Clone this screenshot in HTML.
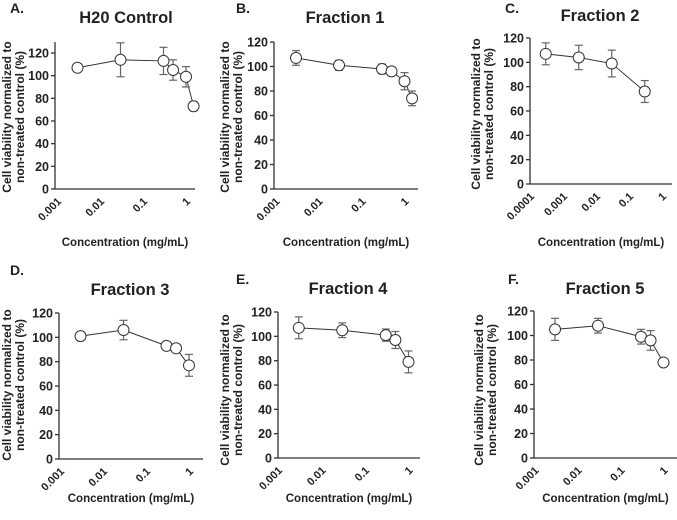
<!DOCTYPE html>
<html><head><meta charset="utf-8"><style>
html,body{margin:0;padding:0;background:#fff;}
svg{display:block;font-family:"Liberation Sans",Arial,sans-serif;}
</style></head><body>
<svg id="fig" width="677" height="520" viewBox="0 0 677 520" xmlns="http://www.w3.org/2000/svg"></svg>
<script>
// Data (concentration mg/mL, viability %, error)
const concA=[0.003,0.03,0.3,0.5,1,1.5];
const valA=[107,114,113,105,99,73];
const errA=[0,15,12,9,9,4];
const concB=[0.003,0.03,0.3,0.5,1,1.5];
const valB=[107,101,98,96,88,74];
const errB=[6,4,4,3,7,6];
const concC=[0.0003,0.003,0.03,0.3];
const valC=[107,104,99,76];
const errC=[9,10,11,9];
const concD=[0.003,0.03,0.3,0.5,1];
const valD=[101,106,93,91,77];
const errD=[0,8,3,3,9];
const concE=[0.003,0.03,0.3,0.5,1];
const valE=[107,105,101,97,79];
const errE=[9,6,5,7,9];
const concF=[0.003,0.03,0.3,0.5,1];
const valF=[105,108,99,96,78];
const errF=[9,6,6,8,3];
const yTicks=[0,20,40,60,80,100,120];
const xTicksStd=["0.001","0.01","0.1","1"];
const xTicksC=["0.0001","0.001","0.01","0.1","1"];

const panels=[
 {id:"a",letter:"A.",title:"H20 Control",conc:concA,val:valA,err:errA,ticks:xTicksStd,x0:55,xl:57,dec:43,xEnd:195,y0:189,y120:53,yTop:42,ymax:130,lx:10,ly:13,tx:126,ty:23,ytx:13,ytc:117,xtY:246},
 {id:"b",letter:"B.",title:"Fraction 1",conc:concB,val:valB,err:errB,ticks:xTicksStd,x0:274,xl:275.5,dec:43,xEnd:418,y0:189,y120:42,yTop:42,ymax:120,lx:236,ly:13,tx:345,ty:23,ytx:231,ytc:117,xtY:246},
 {id:"c",letter:"C.",title:"Fraction 2",conc:concC,val:valC,err:errC,ticks:xTicksC,x0:530,xl:530,dec:33,xEnd:672,y0:184,y120:38,yTop:38,ymax:120,lx:505,ly:13,tx:600,ty:21,ytx:482,ytc:114,xtY:246},
 {id:"d",letter:"D.",title:"Fraction 3",conc:concD,val:valD,err:errD,ticks:xTicksStd,x0:59,xl:60,dec:43,xEnd:203,y0:459,y120:313,yTop:313,ymax:120,lx:10,ly:275,tx:130,ty:295,ytx:13,ytc:385,xtY:502},
 {id:"e",letter:"E.",title:"Fraction 4",conc:concE,val:valE,err:errE,ticks:xTicksStd,x0:278,xl:278,dec:43.5,xEnd:420,y0:458,y120:312,yTop:312,ymax:120,lx:236,ly:284,tx:348,ty:294,ytx:231,ytc:390,xtY:502},
 {id:"f",letter:"F.",title:"Fraction 5",conc:concF,val:valF,err:errF,ticks:xTicksStd,x0:534,xl:534.5,dec:43,xEnd:677,y0:458,y120:311,yTop:311,ymax:120,lx:508,ly:284,tx:605,ty:294,ytx:485,ytc:390,xtY:502}
];
const NS="http://www.w3.org/2000/svg";
const svg=document.getElementById('fig');
function mk(tag,attrs,parent,text){const e=document.createElementNS(NS,tag);for(const k in attrs)e.setAttribute(k,attrs[k]);if(text!==undefined)e.textContent=text;parent.appendChild(e);return e;}

panels.forEach(p=>{
 const g=mk('g',{},svg);
 
 
 const logMin=Math.log10(p.ticks===xTicksC?0.0001:0.001);
 const xs=c=>p.xl+(Math.log10(c)-logMin)*p.dec;
 const k=(p.y0-p.y120)/120;
 const ys=v=>p.y0-v*k;
 let t=mk('text',{x:p.lx,y:p.ly,'font-size':14,'font-weight':'bold',fill:'#222'},g,p.letter);
 
 
 t=mk('text',{x:p.tx,y:p.ty,'font-size':16.5,'font-weight':'bold',fill:'#222','text-anchor':'middle'},g,p.title);
 
 
 let a=mk('line',{x1:p.x0,y1:p.yTop,x2:p.x0,y2:p.y0,stroke:'#333','stroke-width':1.3},g);
 
 
 a=mk('line',{x1:p.x0,y1:p.y0,x2:p.xEnd,y2:p.y0,stroke:'#333','stroke-width':1.3},g);
 
 
 yTicks.forEach(v=>{
  const y=ys(v);
  mk('line',{x1:p.x0-4,y1:y,x2:p.x0,y2:y,stroke:'#333','stroke-width':1.3},g);
  const l=mk('text',{x:p.x0-6,y:y+4.5,'font-size':12.5,'font-weight':'bold',fill:'#222','text-anchor':'end'},g,String(v));
  
  
 });
 p.ticks.forEach(s=>{
  const x=xs(parseFloat(s));
  const l=mk('text',{x:0,y:0,'font-size':11,'font-weight':'bold',fill:'#222','text-anchor':'end',transform:`translate(${x+5},${p.y0+13}) rotate(-45)`},g,s);
  
  
 });
 const yt=mk('text',{'font-size':12,'font-weight':'bold',fill:'#222','text-anchor':'middle',transform:`translate(${p.ytx},${p.ytc}) rotate(-90)`},g);
 
 
 mk('tspan',{x:0,y:-2},yt,'Cell viability normalized to');
 mk('tspan',{x:0,y:11},yt,'non-treated control (%)');
 t=mk('text',{x:(p.x0+p.xEnd)/2,y:p.xtY,'font-size':11.5,'font-weight':'bold',fill:'#222','text-anchor':'middle'},g,'Concentration (mg/mL)');
 
 
 const pts=p.conc.map((c,i)=>xs(c)+','+ys(p.val[i])).join(' ');
 const pl=mk('polyline',{points:pts,fill:'none',stroke:'#333','stroke-width':1},g);
 
 
 p.conc.forEach((c,i)=>{
  if(p.err[i]<=0)return;
  const x=xs(c),yh=ys(p.val[i]+p.err[i]),yl=ys(p.val[i]-p.err[i]);
  const eg=mk('g',{stroke:'#666','stroke-width':1.2},g);
  
  
  mk('line',{x1:x,y1:yh,x2:x,y2:yl},eg);
  mk('line',{x1:x-4,y1:yh,x2:x+4,y2:yh},eg);
  mk('line',{x1:x-4,y1:yl,x2:x+4,y2:yl},eg);
 });
 p.conc.forEach((c,i)=>{
  const ci=mk('circle',{cx:xs(c),cy:ys(p.val[i]),r:5.5,fill:'#fff',stroke:'#333','stroke-width':1},g);
  
  
 });
});
</script>
</body></html>
